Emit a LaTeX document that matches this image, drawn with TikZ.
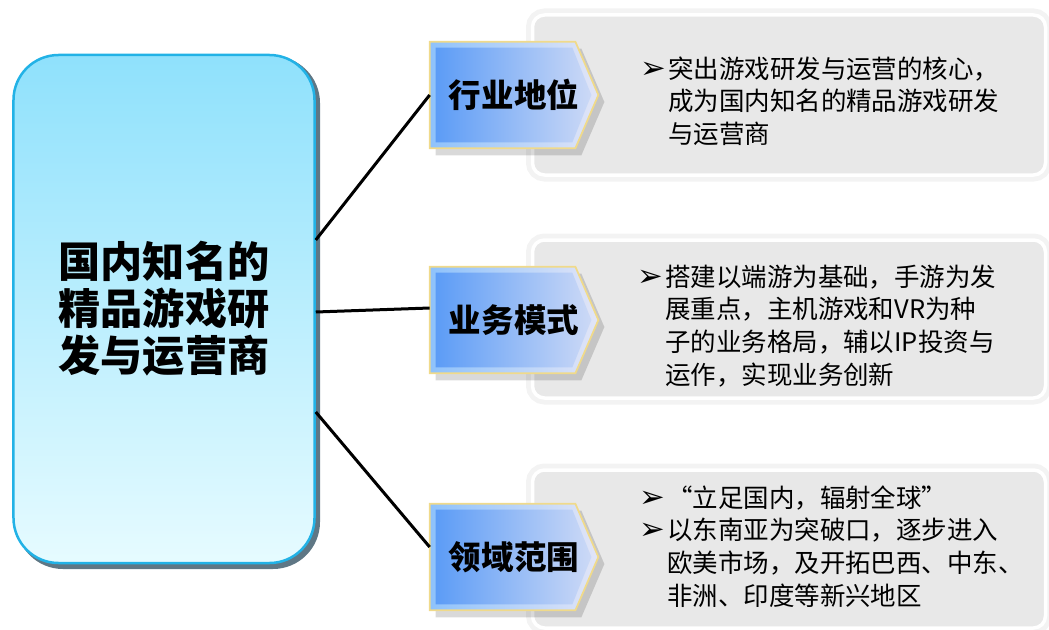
\documentclass[tikz,border=0pt]{standalone}
\usepackage{fontspec}
\setmainfont{Noto Sans CJK SC}
\newfontfamily\symfont{DejaVu Sans}

\definecolor{coreedge}{HTML}{22B2E6}
\definecolor{coreback}{HTML}{5F7785}
\definecolor{coretop}{HTML}{8FE1FC}
\definecolor{corebot}{HTML}{E6FBFF}
\definecolor{tagleft}{HTML}{5C9CF6}
\definecolor{tagright}{HTML}{CCD9F6}
\definecolor{bevelleft}{HTML}{8EC2FB}
\definecolor{bevelright}{HTML}{E2E5F7}
\definecolor{tagrim}{HTML}{F0DA8A}
\definecolor{panelfill}{HTML}{E8E8E8}
\definecolor{panelglow}{HTML}{F3F3F3}

\newcommand{\bul}{{\symfont\fontsize{17.5}{16}\selectfont ➢}}

\begin{document}
\begin{tikzpicture}[x=0.2mm, y=-0.2mm,
        core/.style={rectangle, rounded corners=9mm, minimum width=60.2mm, minimum height=101.6mm,
            top color=coretop, bottom color=corebot, draw=coreedge, line width=0.5mm,
            align=center, font=\fontsize{24}{26.7}\selectfont\bfseries},
        tag/.style={rectangle, minimum width=33.6mm, minimum height=21.2mm, inner sep=0pt},
        tagtext/.style={inner sep=0pt, font=\fontsize{18.5}{20}\selectfont\bfseries},
        panel/.style={rectangle, rounded corners=2.4mm, minimum width=102.6mm,
            fill=panelfill, draw=white, line width=0.7mm,
            preaction={draw=panelglow, line width=2.6mm}},
        points/.style={anchor=north west, inner sep=0pt, align=left,
            font=\fontsize{14.5}{18.6}\selectfont},
        link/.style={line width=0.6mm, black}]

    \useasboundingbox (0,0) rectangle (1049,630);

    \fill[coreback, rounded corners=9.4mm] (16,56) rectangle (320,569);
    \node[core] (core) at (164,309) {国内知名的\\精品游戏研\\发与运营商};

    \node[panel, minimum height=32mm] (desc1) at (789,95) {};
    \node[panel, minimum height=31.6mm] (desc2) at (789,319) {};
    \node[panel, minimum height=31.6mm] (desc3) at (789,549) {};

    \node[tag] (pos1) at (514,95) {};
    \node[tag] (pos2) at (514,320) {};
    \node[tag] (pos3) at (514,557) {};

    \foreach \t in {pos1,pos2,pos3} {
        \fill[black, opacity=0.15, transform canvas={xshift=1.2mm, yshift=-1.4mm}]
            (\t.north west) -- ([xshift=-4.6mm]\t.north east) -- (\t.east)
            -- ([xshift=-4.6mm]\t.south east) -- (\t.south west) -- cycle;
        \shade[left color=bevelleft, right color=bevelright, draw=tagrim, line width=0.35mm]
            (\t.north west) -- ([xshift=-4.6mm]\t.north east) -- (\t.east)
            -- ([xshift=-4.6mm]\t.south east) -- (\t.south west) -- cycle;
        \shade[left color=tagleft, right color=tagright]
            ([shift={(1.2mm,-1.2mm)}]\t.north west) -- ([shift={(-5.2mm,-1.2mm)}]\t.north east)
            -- ([xshift=-1.4mm]\t.east) -- ([shift={(-5.2mm,1.2mm)}]\t.south east)
            -- ([shift={(1.2mm,1.2mm)}]\t.south west) -- cycle;
    }

    \node[tagtext] (pos1text) at (pos1) {行业地位};
    \node[tagtext] (pos2text) at (pos2) {业务模式};
    \node[tagtext] (pos3text) at (pos3) {领域范围};

    \node[points] (text1) at (640,55) {%
        \begin{tabular}{@{}l@{\hspace{0.4mm}}l@{}}
            \bul & 突出游戏研发与运营的核心，\\
                 & 成为国内知名的精品游戏研发\\
                 & 与运营商
        \end{tabular}};
    \node[points] (text2) at (637,263) {%
        \begin{tabular}{@{}l@{\hspace{0.4mm}}l@{}}
            \bul & 搭建以端游为基础，手游为发\\
                 & 展重点，主机游戏和VR为种\\
                 & 子的业务格局，辅以IP投资与\\
                 & 运作，实现业务创新
        \end{tabular}};
    \node[points] (text3) at (639,484) {%
        \begin{tabular}{@{}l@{\hspace{0.4mm}}l@{}}
            \bul & “立足国内，辐射全球”\\
            \bul & 以东南亚为突破口，逐步进入\\
                 & 欧美市场，及开拓巴西、中东、\\
                 & 非洲、印度等新兴地区
        \end{tabular}};

    \draw[link] ([yshift=13.8mm]core.east) -- (pos1.west);
    \draw[link] ([yshift=-0.6mm]core.east) -- ([yshift=2.4mm]pos2.west);
    \draw[link] ([yshift=-20.6mm]core.east) -- ([yshift=2mm]pos3.west);
\end{tikzpicture}
\end{document}
